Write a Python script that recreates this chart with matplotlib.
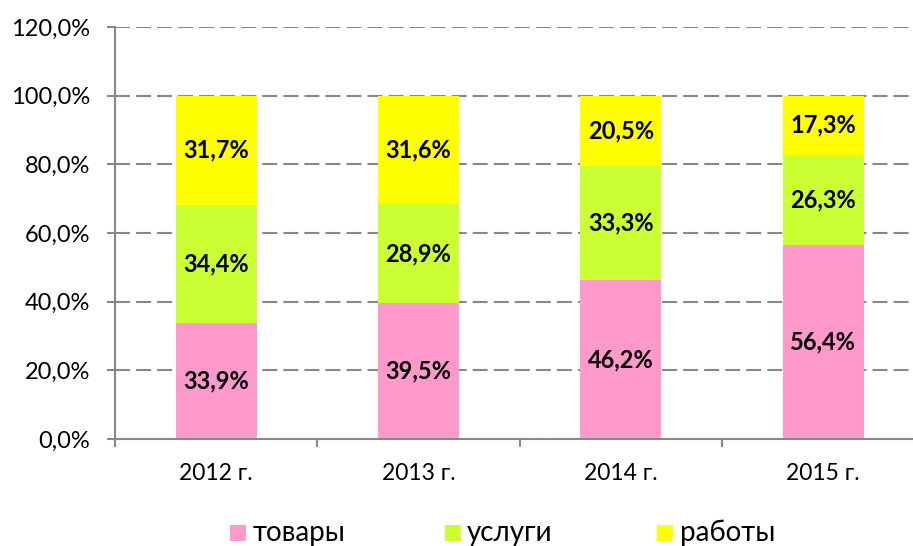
import matplotlib
matplotlib.use("Agg")
import matplotlib.pyplot as plt
from matplotlib.patches import Rectangle
import numpy as np

plt.rcParams['font.family'] = ['Lato', 'DejaVu Sans']

categories = ["2012 г.", "2013 г.", "2014 г.", "2015 г."]
series_names = ["товары", "услуги", "работы"]
tovary = [33.9, 39.5, 46.2, 56.4]
uslugi = [34.4, 28.9, 33.3, 26.3]
raboty = [31.7, 31.6, 20.5, 17.3]
colors = ["#FF99CC", "#CCFF33", "#FFFF00"]
yticks = [0, 20, 40, 60, 80, 100, 120]

W, H = 913, 546
fig = plt.figure(figsize=(W/100, H/100), dpi=100)
ax = fig.add_axes([115/W, 1-439/H, 1-115/W, (439-27)/H])

x = np.arange(len(categories))
bottom = np.zeros(len(categories))
for vals, col in zip([tovary, uslugi, raboty], colors):
    vals = np.array(vals)
    ax.bar(x, vals, width=0.4, bottom=bottom, color=col, zorder=2)
    for xi, b, v in zip(x, bottom, vals):
        ax.text(xi, b + v/2, f"{v:.1f}%".replace('.', ','), ha='center', va='center',
                fontsize=17, fontweight='bold', color='black', zorder=3)
    bottom += vals

ax.set_yticks(yticks)
ax.set_yticklabels([f"{t:.1f}%".replace('.', ',') for t in yticks], fontsize=17)
ax.set_xticks(x)
ax.set_xticklabels(categories, fontsize=16.5)
ax.set_xticks(np.arange(-0.5, 3.0, 1), minor=True)
ax.set_ylim(0, 120)
ax.set_xlim(-0.5, -0.5 + (W-115)/202.3)
ax.tick_params(axis='x', which='major', length=0, pad=17)
ax.tick_params(axis='x', which='minor', length=6, color='#888888', width=1.5, direction='out')
ax.tick_params(axis='y', length=6, color='#888888', width=1.5, direction='out', pad=12)
ax.yaxis.grid(True, linestyle=(0, (7.2, 2.9)), color='#888888', linewidth=1.5, zorder=0)
ax.set_axisbelow(True)
for s in ['top', 'right']:
    ax.spines[s].set_visible(False)
for s in ['left', 'bottom']:
    ax.spines[s].set_color('#888888')
    ax.spines[s].set_linewidth(1.5)

# legend, placed manually
legend_sq_x = [230, 445, 657]
legend_txt_x = [253, 467, 680]
for sx, tx, col, name in zip(legend_sq_x, legend_txt_x, colors, series_names):
    fig.add_artist(Rectangle((sx/W, 1-541/H), 16/W, 16/H, transform=fig.transFigure,
                             facecolor=col, edgecolor='none'))
    fig.text(tx/W, 1-541/H, name, fontsize=20, ha='left', va='baseline', color='black')

fig.savefig("out.png", dpi=100)
